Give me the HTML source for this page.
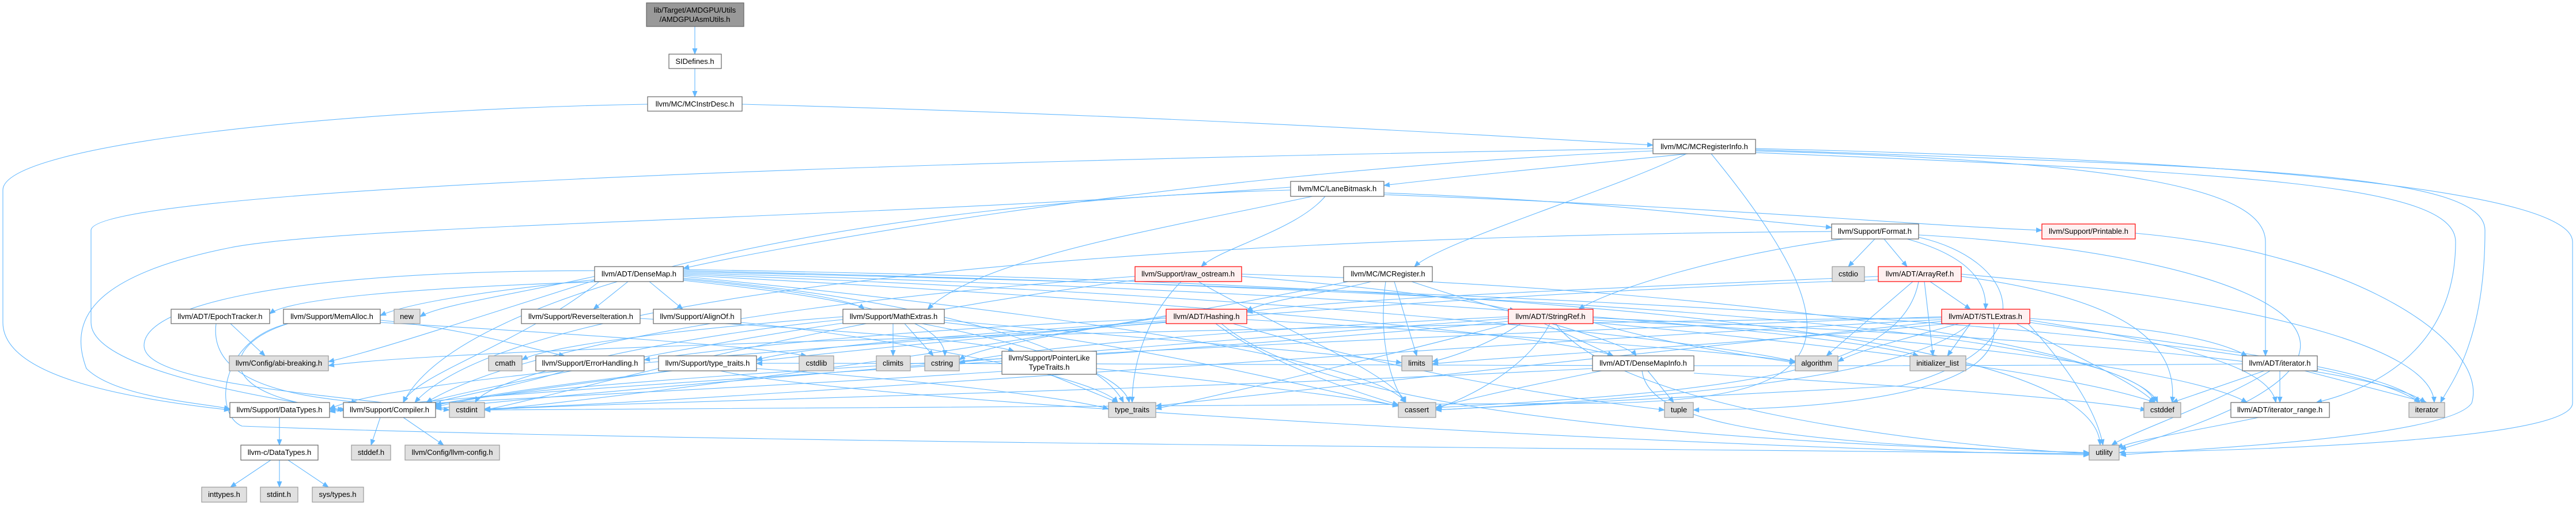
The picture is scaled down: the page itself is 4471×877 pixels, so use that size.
<!DOCTYPE html>
<html><head><meta charset="utf-8"><style>
html,body{margin:0;padding:0;background:#fff;}
svg{display:block;}
text{font-family:"Liberation Sans",Arial,sans-serif;font-size:13px;fill:#000;text-anchor:middle;}
.e{fill:none;stroke:#63b8ff;stroke-width:1.1;marker-end:url(#a);}
.n{fill:#fff;stroke:#666;stroke-width:1.2;}
.g{fill:#e0e0e0;stroke:#999;stroke-width:1.2;}
.r{fill:#fff0f0;stroke:#f00;stroke-width:1.2;}
.t{fill:#999;stroke:#666;stroke-width:1.2;}
</style></head><body>
<svg width="4471" height="877" viewBox="0 0 4471 877" xmlns="http://www.w3.org/2000/svg">
<defs><marker id="a" markerUnits="userSpaceOnUse" markerWidth="11" markerHeight="9" refX="10" refY="4.5" orient="auto"><path d="M0,0 L11,4.5 L0,9 z" fill="#63b8ff"/></marker></defs>
<g>
<path class="e" d="M1206,46 L1206,94"/>
<path class="e" d="M1206,119 L1206,168"/>
<path class="e" d="M1288,181 C2000,200 2500,230 2869,252"/>
<path class="e" d="M1124,181 C600,190 5,250 5,330 L5,560 C5,650 200,690 399,712"/>
<path class="e" d="M2930,267 C2700,290 2500,310 2402,322"/>
<path class="e" d="M2927,267 C2800,330 2500,420 2455,463"/>
<path class="e" d="M2869,262 C2000,300 1300,440 1186,466"/>
<path class="e" d="M2970,267 C3260,620 3150,690 2800,700 L841,712"/>
<path class="e" d="M2869,258 C1500,280 158,330 158,400 L158,560 C158,640 450,690 596,712"/>
<path class="e" d="M3047,262 C3700,280 3932,330 3932,420 L3932,618"/>
<path class="e" d="M3047,265 C3900,300 4262,320 4262,420 C4262,620 4100,680 4020,699"/>
<path class="e" d="M3047,260 C3900,290 4313,300 4313,400 C4313,600 4250,670 4236,699"/>
<path class="e" d="M3047,258 C4000,280 4465,340 4465,420 L4465,700 C4465,760 4000,780 3678,786"/>
<path class="e" d="M2300,341 C2250,400 2120,430 2085,463"/>
<path class="e" d="M2402,335 C2800,350 3000,380 3179,395"/>
<path class="e" d="M2402,338 C3000,360 3300,390 3544,400"/>
<path class="e" d="M2278,341 C2000,400 1700,450 1610,537"/>
<path class="e" d="M2240,330 C1500,350 800,500 700,699"/>
<path class="e" d="M2240,325 C1500,380 600,390 400,430 C150,480 120,560 150,640 C200,690 350,700 399,710"/>
<path class="e" d="M3254,415 L3208,463"/>
<path class="e" d="M3270,415 L3310,463"/>
<path class="e" d="M3310,415 C3400,440 3450,480 3446,537"/>
<path class="e" d="M3200,415 C3000,440 2800,500 2740,537"/>
<path class="e" d="M3179,402 C2000,410 900,500 720,699"/>
<path class="e" d="M3330,412 C3500,450 3560,600 3300,670 L2492,712"/>
<path class="e" d="M3330,408 C3900,440 4300,600 3680,780"/>
<path class="e" d="M3706,405 C4100,440 4320,600 4290,700 C4250,760 3800,780 3680,790"/>
<path class="e" d="M1050,489 C700,500 500,520 468,545"/>
<path class="e" d="M1040,485 C800,510 700,530 660,548"/>
<path class="e" d="M1032,480 C900,510 760,530 729,550"/>
<path class="e" d="M1090,489 L1030,537"/>
<path class="e" d="M1127,489 L1185,537"/>
<path class="e" d="M1186,485 C1350,500 1480,520 1500,537"/>
<path class="e" d="M1186,478 C2000,520 2700,580 2800,618"/>
<path class="e" d="M1040,489 C900,600 720,650 700,699"/>
<path class="e" d="M1186,483 C1600,520 1900,600 1950,699"/>
<path class="e" d="M1186,480 C2000,560 2400,640 2440,699"/>
<path class="e" d="M1186,476 C2400,520 3000,600 3116,628"/>
<path class="e" d="M1186,474 C2500,510 3200,580 3330,618"/>
<path class="e" d="M1186,472 C2500,500 4000,560 4200,699"/>
<path class="e" d="M1186,470 C2500,500 3700,560 3740,699"/>
<path class="e" d="M1186,468 C2500,490 3640,560 3645,773"/>
<path class="e" d="M1186,487 C1400,510 1640,540 1640,618"/>
<path class="e" d="M1032,487 C800,560 650,610 570,628"/>
<path class="e" d="M1032,470 C500,470 250,530 250,600 C250,660 500,680 780,712"/>
<path class="e" d="M1970,480 C1400,520 900,600 740,699"/>
<path class="e" d="M2050,489 C1980,560 1965,650 1965,699"/>
<path class="e" d="M2080,489 C2200,560 2420,650 2440,699"/>
<path class="e" d="M2155,480 C2400,500 2550,520 2630,540"/>
<path class="e" d="M2155,476 C3000,500 3700,600 3745,699"/>
<path class="e" d="M1980,485 C1400,560 1000,680 841,712"/>
<path class="e" d="M2380,489 C2300,510 2200,520 2164,540"/>
<path class="e" d="M2450,489 C2600,540 2820,590 2840,618"/>
<path class="e" d="M2420,489 L2459,618"/>
<path class="e" d="M2405,489 C2390,600 2420,680 2440,699"/>
<path class="e" d="M2340,489 C1800,600 1000,700 841,712"/>
<path class="e" d="M3260,480 C2800,500 2300,520 2164,542"/>
<path class="e" d="M3350,489 L3420,537"/>
<path class="e" d="M3320,489 L3170,618"/>
<path class="e" d="M3340,489 L3355,618"/>
<path class="e" d="M3330,489 C3300,650 3000,680 2492,708"/>
<path class="e" d="M3404,480 C3700,520 3780,600 3770,699"/>
<path class="e" d="M3404,476 C3900,520 4220,600 4225,699"/>
<path class="e" d="M3260,486 C2200,520 1000,650 750,705"/>
<path class="e" d="M400,562 L460,618"/>
<path class="e" d="M375,562 C360,680 560,690 620,699"/>
<path class="e" d="M660,556 C800,570 900,600 980,618"/>
<path class="e" d="M500,562 C380,600 370,690 600,712"/>
<path class="e" d="M660,560 C1000,580 1300,600 1400,618"/>
<path class="e" d="M500,562 C380,590 370,720 420,740 C1200,770 3000,780 3626,788"/>
<path class="e" d="M1111,553 C1400,570 1700,590 1760,610"/>
<path class="e" d="M1286,560 C1500,580 1900,650 1940,699"/>
<path class="e" d="M1470,560 C1200,600 800,680 740,699"/>
<path class="e" d="M1550,562 L1550,618"/>
<path class="e" d="M1570,562 L1620,618"/>
<path class="e" d="M1463,555 C1200,580 850,650 825,699"/>
<path class="e" d="M1600,562 C1800,600 1950,650 1960,699"/>
<path class="e" d="M1639,560 C2000,600 2300,680 2427,705"/>
<path class="e" d="M1463,550 C1200,570 950,600 906,625"/>
<path class="e" d="M1639,556 C2000,590 2300,610 2433,630"/>
<path class="e" d="M2024,553 C1600,570 1300,600 1118,625"/>
<path class="e" d="M2024,557 C1700,580 1400,600 1313,625"/>
<path class="e" d="M2164,555 C2600,580 3000,610 3116,628"/>
<path class="e" d="M2110,562 C2200,630 2350,680 2427,703"/>
<path class="e" d="M2024,550 C1900,570 1700,600 1665,625"/>
<path class="e" d="M2140,562 C2400,640 2700,690 2889,712"/>
<path class="e" d="M2120,562 C2300,720 3000,770 3626,786"/>
<path class="e" d="M2024,560 C1500,600 700,650 572,710"/>
<path class="e" d="M2680,562 L2800,618"/>
<path class="e" d="M2765,556 C3300,580 3800,640 3900,699"/>
<path class="e" d="M2618,553 C2000,600 900,690 756,710"/>
<path class="e" d="M2618,558 C2000,620 800,680 572,715"/>
<path class="e" d="M2765,560 C2900,600 3050,620 3116,630"/>
<path class="e" d="M2690,562 C2650,640 2550,690 2492,710"/>
<path class="e" d="M2765,560 C3200,600 3600,650 3740,699"/>
<path class="e" d="M2618,550 C2200,570 1800,600 1665,630"/>
<path class="e" d="M2640,562 C2580,600 2520,620 2486,628"/>
<path class="e" d="M2620,562 C2400,620 2100,690 2006,710"/>
<path class="e" d="M2700,562 C2800,700 3300,770 3626,788"/>
<path class="e" d="M2765,552 C3400,580 4100,620 4210,699"/>
<path class="e" d="M3523,553 C3750,570 3850,590 3900,618"/>
<path class="e" d="M3523,556 C3800,600 3940,640 3950,699"/>
<path class="e" d="M3400,562 C3300,590 3220,610 3190,628"/>
<path class="e" d="M3420,562 L3380,618"/>
<path class="e" d="M3420,562 C3300,660 2900,690 2492,712"/>
<path class="e" d="M3460,562 C3480,680 3200,710 2939,712"/>
<path class="e" d="M3500,562 C3600,620 3700,660 3740,699"/>
<path class="e" d="M3523,560 C3800,600 4150,640 4200,699"/>
<path class="e" d="M3520,562 C3600,650 3640,720 3650,773"/>
<path class="e" d="M3370,550 C2500,580 1000,650 756,703"/>
<path class="e" d="M3370,555 C2500,600 1200,700 841,710"/>
<path class="e" d="M3370,558 C3000,600 2200,680 2006,705"/>
<path class="e" d="M3380,562 C3000,600 2600,620 2486,632"/>
<path class="e" d="M3370,552 C2500,560 800,600 570,635"/>
<path class="e" d="M660,725 L644,773"/>
<path class="e" d="M700,725 L770,773"/>
<path class="e" d="M485,725 L485,773"/>
<path class="e" d="M470,799 L400,846"/>
<path class="e" d="M485,799 L485,846"/>
<path class="e" d="M500,799 L570,846"/>
<path class="e" d="M980,644 C900,670 780,690 740,703"/>
<path class="e" d="M1313,640 C1600,660 1850,690 1924,710"/>
<path class="e" d="M1250,644 C1500,700 3000,780 3626,790"/>
<path class="e" d="M1160,644 C1000,670 800,690 756,708"/>
<path class="e" d="M1821,650 L1940,699"/>
<path class="e" d="M1903,640 C2100,660 2350,690 2427,705"/>
<path class="e" d="M1739,645 C1200,680 700,700 572,712"/>
<path class="e" d="M2860,644 L2905,699"/>
<path class="e" d="M2780,644 C2600,680 2520,700 2492,708"/>
<path class="e" d="M2940,648 C3300,670 3600,690 3725,712"/>
<path class="e" d="M2850,644 C2860,720 3000,770 3626,786"/>
<path class="e" d="M2764,640 C2000,680 1000,700 841,712"/>
<path class="e" d="M3957,644 L3957,699"/>
<path class="e" d="M3930,644 L3770,699"/>
<path class="e" d="M4000,644 L4212,699"/>
<path class="e" d="M3940,644 C3850,700 3700,750 3665,773"/>
<path class="e" d="M3892,632 C3000,640 2000,630 1313,631"/>
<path class="e" d="M3920,725 C3800,750 3700,765 3675,778"/>
</g>
<g>
<rect class="t" x="1122" y="5" width="169" height="41"/><text x="1206" y="22">lib/Target/AMDGPU/Utils</text><text x="1206" y="38">/AMDGPUAsmUtils.h</text>
<rect class="n" x="1161" y="94" width="91" height="25"/><text x="1206" y="111">SIDefines.h</text>
<rect class="n" x="1124" y="168" width="164" height="25"/><text x="1206" y="185">llvm/MC/MCInstrDesc.h</text>
<rect class="n" x="2869" y="242" width="178" height="25"/><text x="2958" y="259">llvm/MC/MCRegisterInfo.h</text>
<rect class="n" x="2240" y="315" width="162" height="26"/><text x="2321" y="332">llvm/MC/LaneBitmask.h</text>
<rect class="n" x="3179" y="389" width="151" height="26"/><text x="3254" y="406">llvm/Support/Format.h</text>
<rect class="r" x="3544" y="389" width="162" height="26"/><text x="3625" y="406">llvm/Support/Printable.h</text>
<rect class="n" x="1032" y="463" width="154" height="26"/><text x="1109" y="480">llvm/ADT/DenseMap.h</text>
<rect class="r" x="1970" y="463" width="185" height="26"/><text x="2062" y="480">llvm/Support/raw_ostream.h</text>
<rect class="n" x="2332" y="463" width="154" height="26"/><text x="2409" y="480">llvm/MC/MCRegister.h</text>
<rect class="g" x="3180" y="463" width="56" height="26"/><text x="3208" y="480">cstdio</text>
<rect class="r" x="3260" y="463" width="144" height="26"/><text x="3332" y="480">llvm/ADT/ArrayRef.h</text>
<rect class="n" x="297" y="537" width="171" height="25"/><text x="382" y="554">llvm/ADT/EpochTracker.h</text>
<rect class="n" x="492" y="537" width="168" height="25"/><text x="576" y="554">llvm/Support/MemAlloc.h</text>
<rect class="g" x="684" y="537" width="45" height="25"/><text x="706" y="554">new</text>
<rect class="n" x="905" y="537" width="206" height="25"/><text x="1008" y="554">llvm/Support/ReverseIteration.h</text>
<rect class="n" x="1134" y="537" width="152" height="25"/><text x="1210" y="554">llvm/Support/AlignOf.h</text>
<rect class="n" x="1463" y="537" width="176" height="25"/><text x="1551" y="554">llvm/Support/MathExtras.h</text>
<rect class="r" x="2024" y="537" width="140" height="25"/><text x="2094" y="554">llvm/ADT/Hashing.h</text>
<rect class="r" x="2618" y="537" width="147" height="25"/><text x="2691" y="554">llvm/ADT/StringRef.h</text>
<rect class="r" x="3370" y="537" width="153" height="25"/><text x="3446" y="554">llvm/ADT/STLExtras.h</text>
<rect class="g" x="398" y="618" width="172" height="26"/><text x="484" y="635">llvm/Config/abi-breaking.h</text>
<rect class="g" x="848" y="618" width="58" height="26"/><text x="877" y="635">cmath</text>
<rect class="n" x="930" y="618" width="188" height="26"/><text x="1024" y="635">llvm/Support/ErrorHandling.h</text>
<rect class="n" x="1143" y="618" width="170" height="26"/><text x="1228" y="635">llvm/Support/type_traits.h</text>
<rect class="g" x="1387" y="618" width="60" height="26"/><text x="1417" y="635">cstdlib</text>
<rect class="g" x="1521" y="618" width="59" height="26"/><text x="1550" y="635">climits</text>
<rect class="g" x="1605" y="618" width="60" height="26"/><text x="1635" y="635">cstring</text>
<rect class="n" x="1739" y="610" width="164" height="40"/><text x="1821" y="626">llvm/Support/PointerLike</text><text x="1821" y="642">TypeTraits.h</text>
<rect class="g" x="2433" y="618" width="53" height="26"/><text x="2459" y="635">limits</text>
<rect class="n" x="2764" y="618" width="176" height="26"/><text x="2852" y="635">llvm/ADT/DenseMapInfo.h</text>
<rect class="g" x="3116" y="618" width="74" height="26"/><text x="3153" y="635">algorithm</text>
<rect class="g" x="3315" y="618" width="97" height="26"/><text x="3363" y="635">initializer_list</text>
<rect class="n" x="3892" y="618" width="130" height="26"/><text x="3957" y="635">llvm/ADT/iterator.h</text>
<rect class="n" x="399" y="699" width="173" height="26"/><text x="485" y="716">llvm/Support/DataTypes.h</text>
<rect class="n" x="596" y="699" width="160" height="26"/><text x="676" y="716">llvm/Support/Compiler.h</text>
<rect class="g" x="780" y="699" width="61" height="26"/><text x="810" y="716">cstdint</text>
<rect class="g" x="1924" y="699" width="82" height="26"/><text x="1965" y="716">type_traits</text>
<rect class="g" x="2427" y="699" width="65" height="26"/><text x="2459" y="716">cassert</text>
<rect class="g" x="2889" y="699" width="50" height="26"/><text x="2914" y="716">tuple</text>
<rect class="g" x="3721" y="699" width="64" height="26"/><text x="3753" y="716">cstddef</text>
<rect class="n" x="3872" y="699" width="171" height="26"/><text x="3957" y="716">llvm/ADT/iterator_range.h</text>
<rect class="g" x="4181" y="699" width="62" height="26"/><text x="4212" y="716">iterator</text>
<rect class="n" x="418" y="773" width="134" height="26"/><text x="485" y="790">llvm-c/DataTypes.h</text>
<rect class="g" x="610" y="773" width="68" height="26"/><text x="644" y="790">stddef.h</text>
<rect class="g" x="703" y="773" width="164" height="26"/><text x="785" y="790">llvm/Config/llvm-config.h</text>
<rect class="g" x="3626" y="773" width="52" height="26"/><text x="3652" y="790">utility</text>
<rect class="g" x="350" y="846" width="78" height="26"/><text x="389" y="863">inttypes.h</text>
<rect class="g" x="452" y="846" width="65" height="26"/><text x="484" y="863">stdint.h</text>
<rect class="g" x="542" y="846" width="89" height="26"/><text x="586" y="863">sys/types.h</text>
</g>
</svg>
</body></html>
